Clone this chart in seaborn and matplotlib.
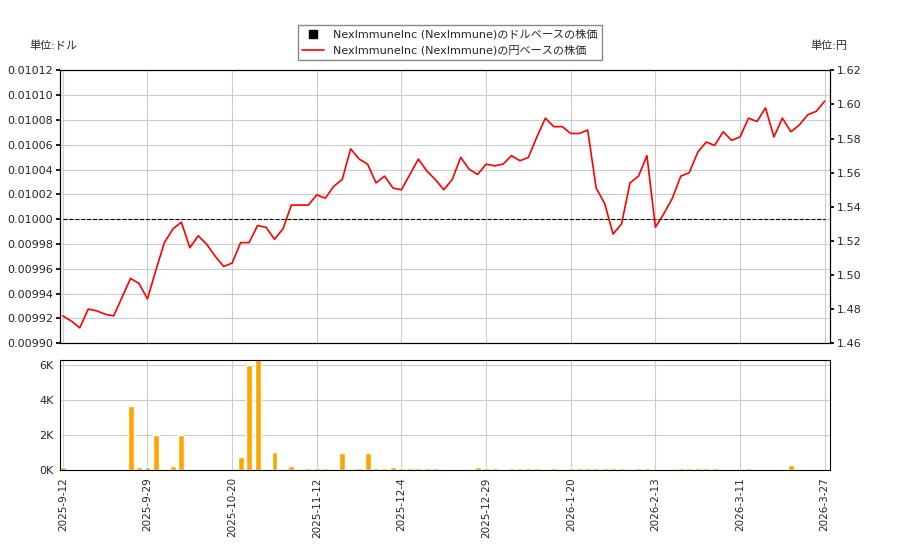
import matplotlib
matplotlib.use("Agg")
import matplotlib.pyplot as plt
import numpy as np
import pandas as pd
import seaborn as sns

TICK_LABELS = ["2025-9-12", "2025-9-29", "2025-10-20", "2025-11-12", "2025-12-4",
               "2025-12-29", "2026-1-20", "2026-2-13", "2026-3-11", "2026-3-27"]

PRICE_YEN = [
    1.476, 1.473, 1.469, 1.480, 1.479, 1.477, 1.476, 1.487, 1.498, 1.495,
    1.486, 1.503, 1.519, 1.527, 1.531, 1.516, 1.523, 1.518, 1.511, 1.505,
    1.507, 1.519, 1.519, 1.529, 1.528, 1.521, 1.527, 1.541, 1.541, 1.541,
    1.547, 1.545, 1.552, 1.556, 1.574, 1.568, 1.565, 1.554, 1.558, 1.551,
    1.550, 1.559, 1.568, 1.561, 1.556, 1.550, 1.556, 1.569, 1.562, 1.559,
    1.565, 1.564, 1.565, 1.570, 1.567, 1.569, 1.581, 1.592, 1.587, 1.587,
    1.583, 1.583, 1.585, 1.551, 1.542, 1.524, 1.530, 1.554, 1.558, 1.570,
    1.528, 1.536, 1.545, 1.558, 1.560, 1.572, 1.578, 1.576, 1.584, 1.579,
    1.581, 1.592, 1.590, 1.598, 1.581, 1.592, 1.584, 1.588, 1.594, 1.596,
    1.602,
]

VOLUME = [
    200, 0, 0, 0, 0, 0, 0, 0, 3700, 200,
    200, 2000, 0, 250, 2000, 0, 0, 0, 0, 0,
    0, 750, 6000, 6300, 0, 1050, 0, 250, 0, 150,
    150, 150, 0, 1000, 0, 150, 1000, 150, 150, 200,
    150, 150, 150, 150, 150, 0, 0, 0, 0, 200,
    150, 150, 0, 150, 150, 150, 150, 0, 150, 0,
    150, 150, 150, 150, 150, 150, 150, 0, 150, 150,
    0, 0, 0, 150, 150, 150, 150, 150, 0, 0,
    0, 150, 0, 0, 0, 0, 300, 0, 0, 0,
    0,
]

PRICE_USD = 0.01

df = pd.DataFrame({"idx": np.arange(len(PRICE_YEN)), "yen": PRICE_YEN,
                   "usd": PRICE_USD, "vol": VOLUME})

sns.set_theme(style="whitegrid")
plt.rcParams["font.family"] = ["DejaVu Sans", "Noto Sans CJK JP"]
plt.rcParams["font.size"] = 8

fig = plt.figure(figsize=(9, 5.5), dpi=100)
ax = fig.add_axes([0.067, 0.376, 0.855, 0.496])
ax2 = ax.twinx()
axv = fig.add_axes([0.067, 0.145, 0.855, 0.2])

for a in (ax, ax2, axv):
    for s in a.spines.values():
        s.set_color("black")
        s.set_linewidth(0.8)

sns.lineplot(data=df, x="idx", y="usd", ax=ax, color="black", linestyle="--", linewidth=0.8)
sns.lineplot(data=df, x="idx", y="yen", ax=ax2, color="red", linewidth=1.2)

xmax = len(PRICE_YEN) - 1
ax.set_xlim(-0.3, xmax + 0.6)
ax.set_ylim(0.0099, 0.01012)
ticks = np.arange(0.0099, 0.010121, 0.00002)
ax.set_yticks(ticks)
ax.set_yticklabels([f"{v:.5f}" for v in ticks])
ax2.set_ylim(1.46, 1.62)
ax2.set_yticks(np.arange(1.46, 1.621, 0.02))
ax2.grid(False)
ax.set_xticks(np.arange(0, xmax + 1, 10))
ax.set_xticklabels([])
for a in (ax, ax2, axv):
    a.set_xlabel("")
    a.set_ylabel("")
    a.tick_params(length=3, color="black", labelsize=8, pad=2)
ax.grid(color="#cccccc", linewidth=0.8)

sns.barplot(data=df, x="idx", y="vol", ax=axv, color="orange", saturation=1,
            width=0.7, native_scale=True)
axv.set_xlim(-0.3, xmax + 0.6)
axv.set_ylim(0, 6300)
axv.set_yticks([0, 2000, 4000, 6000])
axv.set_yticklabels(["0K", "2K", "4K", "6K"])
axv.set_xticks(np.arange(0, xmax + 1, 10))
axv.set_xticklabels(TICK_LABELS, rotation=90, fontsize=7.5)
axv.grid(color="#cccccc", linewidth=0.8)
axv.set_xlabel("")
axv.set_ylabel("")

fig.text(0.033, 0.91, "単位:ドル", fontsize=8)
fig.text(0.9, 0.91, "単位:円", fontsize=8)

h1 = plt.Line2D([], [], color="black", marker="s", linestyle="none", markersize=6)
h2 = plt.Line2D([], [], color="red", linewidth=1.2)
fig.legend([h1, h2], ["NexImmuneInc (NexImmune)のドルベースの株価",
                      "NexImmuneInc (NexImmune)の円ベースの株価"],
           loc="upper center", bbox_to_anchor=(0.5, 0.965), fontsize=8,
           fancybox=False, edgecolor="#888888", framealpha=1)

fig.savefig("out.png", dpi=100)
